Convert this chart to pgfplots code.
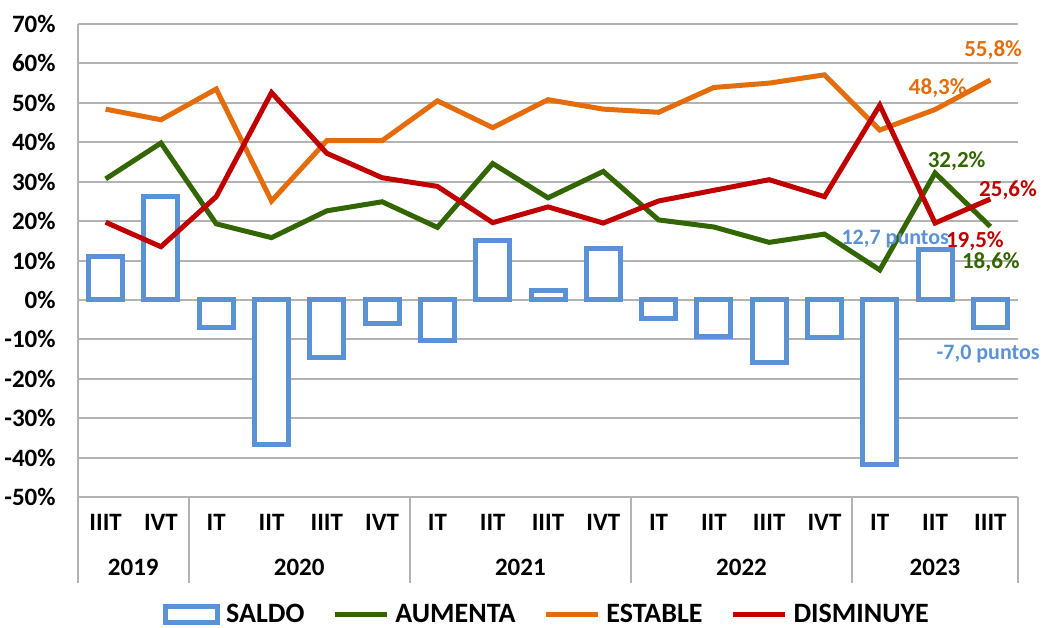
\documentclass[border=0pt]{standalone}
\usepackage{pgfplots}
\pgfplotsset{compat=1.18}
\usepackage{fontspec}
\setmainfont{Carlito}
\definecolor{saldo}{HTML}{5B92D6}
\definecolor{aumenta}{HTML}{336600}
\definecolor{estable}{HTML}{E46C0A}
\definecolor{disminuye}{HTML}{C00000}
\definecolor{gridgray}{HTML}{B3B3B3}

% AUMENTA / ESTABLE / DISMINUYE per quarter (IIIT 2019 .. IIIT 2023), SALDO = AUMENTA - DISMINUYE
\pgfplotstableread{
x  saldo  aumenta estable disminuye
0  11.0   30.7    48.4    19.7
1  26.3   39.8    45.7    13.5
2  -6.9   19.3    53.5    26.2
3  -36.8  15.8    25.1    52.6
4  -14.6  22.6    40.4    37.2
5  -6.1   24.9    40.4    31.0
6  -10.4  18.4    50.5    28.8
7  15.0   34.6    43.7    19.6
8  2.3    25.9    50.8    23.6
9  13.1   32.6    48.4    19.5
10 -4.8   20.3    47.6    25.1
11 -9.3   18.5    53.9    27.8
12 -15.9  14.6    55.0    30.5
13 -9.5   16.7    57.1    26.2
14 -41.8  7.6     43.1    49.4
15 12.7   32.2    48.3    19.5
16 -7.0   18.6    55.8    25.6
}\datatable

\begin{document}
\begin{tikzpicture}
\begin{axis}[
  scale only axis,
  width=470pt, height=236.5pt,
  xmin=-0.5, xmax=16.5, ymin=-50, ymax=70,
  xtick={0,...,16},
  xticklabels={IIIT,IVT,IT,IIT,IIIT,IVT,IT,IIT,IIIT,IVT,IT,IIT,IIIT,IVT,IT,IIT,IIIT},
  ytick={-50,-40,...,70},
  yticklabels={-50\%,-40\%,-30\%,-20\%,-10\%,0\%,10\%,20\%,30\%,40\%,50\%,60\%,70\%},
  major tick length=0pt,
  axis line style={draw=none},
  ymajorgrids,
  grid style={gridgray, line width=1pt},
  yticklabel style={font=\fontsize{12.5}{14}\selectfont\bfseries, inner sep=0pt, xshift=-11pt},
  xticklabel style={font=\fontsize{12.5}{14}\selectfont\bfseries, anchor=center, yshift=-12.5pt},
  clip=false,
  legend columns=4,
  legend style={at={(0.5,-0.249)}, anchor=center, draw=none,
    font=\fontsize{14}{16}\selectfont\bfseries,
    /tikz/every even column/.append style={column sep=12pt},
    /tikz/every odd column/.append style={column sep=1pt}},
  legend image code/.code={\draw[#1] (0pt,0pt) -- (26pt,0pt);},
]
\addplot[ybar, bar width=17pt, draw=saldo, fill=white, line width=2.5pt,
  legend image code/.code={\draw[saldo, line width=2.5pt, fill=white] (0pt,-4pt) rectangle (26pt,4pt);}]
  table[x=x, y=saldo] {\datatable};
\addlegendentry{SALDO}
\addplot[aumenta, line width=2.5pt, mark=none] table[x=x, y=aumenta] {\datatable};
\addlegendentry{AUMENTA}
\addplot[estable, line width=2.5pt, mark=none] table[x=x, y=estable] {\datatable};
\addlegendentry{ESTABLE}
\addplot[disminuye, line width=2.5pt, mark=none] table[x=x, y=disminuye] {\datatable};
\addlegendentry{DISMINUYE}

% left axis line and year separators
\draw[gridgray, line width=1pt] (axis cs:-0.5,70) -- (axis cs:-0.5,-50) -- ++(0pt,-43pt);
\pgfplotsinvokeforeach{1.5,5.5,9.5,13.5,16.5}{
  \draw[gridgray, line width=1pt] (axis cs:#1,-50) -- ++(0pt,-43pt);
}
\begin{scope}[every node/.style={font=\fontsize{12.5}{14}\selectfont\bfseries, yshift=-35pt}]
\node at (axis cs:0.5,-50) {2019};
\node at (axis cs:3.5,-50) {2020};
\node at (axis cs:7.5,-50) {2021};
\node at (axis cs:11.5,-50) {2022};
\node at (axis cs:15,-50) {2023};
\end{scope}

% data labels
\begin{scope}[every node/.style={font=\fontsize{11.5}{13}\selectfont\bfseries, inner sep=0pt}]
\node[estable] at (axis cs:16.05,63.4) {55,8\%};
\node[estable] at (axis cs:15.05,53.8) {48,3\%};
\node[aumenta] at (axis cs:15.39,35.1) {32,2\%};
\node[disminuye] at (axis cs:16.32,27.9) {25,6\%};
\node[disminuye] at (axis cs:15.72,14.8) {19,5\%};
\node[aumenta] at (axis cs:16.01,9.7) {18,6\%};
\node[saldo, font=\fontsize{11}{12}\selectfont\bfseries] at (axis cs:14.28,15.4) {12,7 puntos};
\node[saldo, font=\fontsize{11}{12}\selectfont\bfseries] at (axis cs:15.96,-13.8) {-7,0 puntos};
\end{scope}
\coordinate (O) at (rel axis cs:0,0);
\end{axis}
\pgfresetboundingbox
\path[use as bounding box] ([shift={(-39pt,-65pt)}]O) rectangle ([shift={(491.5pt,248.5pt)}]O);
\end{tikzpicture}
\end{document}
